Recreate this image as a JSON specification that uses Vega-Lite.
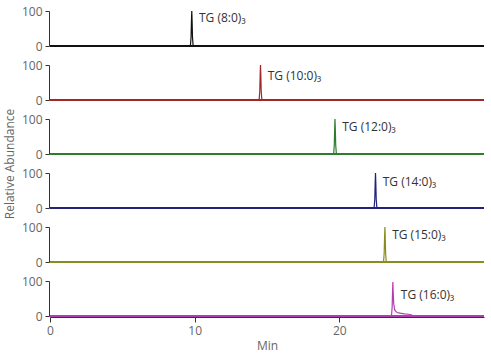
{
  "$schema": "https://vega.github.io/schema/vega-lite/v6.json",
  "padding": {"left": 3, "top": 5, "right": 5, "bottom": 5},
  "background": "white",
  "data": {"values": [
    {"panel": 1, "t": 0, "ab": 0}, {"panel": 1, "t": 9.65, "ab": 0}, {"panel": 1, "t": 9.71, "ab": 3}, {"panel": 1, "t": 9.75, "ab": 25}, {"panel": 1, "t": 9.78, "ab": 75}, {"panel": 1, "t": 9.8, "ab": 100}, {"panel": 1, "t": 9.82, "ab": 75}, {"panel": 1, "t": 9.85, "ab": 25}, {"panel": 1, "t": 9.89, "ab": 3}, {"panel": 1, "t": 9.95, "ab": 0}, {"panel": 1, "t": 30, "ab": 0},
    {"panel": 2, "t": 0, "ab": 0}, {"panel": 2, "t": 14.4, "ab": 0}, {"panel": 2, "t": 14.46, "ab": 3}, {"panel": 2, "t": 14.5, "ab": 25}, {"panel": 2, "t": 14.53, "ab": 75}, {"panel": 2, "t": 14.55, "ab": 100}, {"panel": 2, "t": 14.57, "ab": 75}, {"panel": 2, "t": 14.6, "ab": 25}, {"panel": 2, "t": 14.64, "ab": 3}, {"panel": 2, "t": 14.7, "ab": 0}, {"panel": 2, "t": 30, "ab": 0},
    {"panel": 3, "t": 0, "ab": 0}, {"panel": 3, "t": 19.55, "ab": 0}, {"panel": 3, "t": 19.61, "ab": 3}, {"panel": 3, "t": 19.65, "ab": 25}, {"panel": 3, "t": 19.68, "ab": 75}, {"panel": 3, "t": 19.7, "ab": 100}, {"panel": 3, "t": 19.72, "ab": 75}, {"panel": 3, "t": 19.75, "ab": 25}, {"panel": 3, "t": 19.79, "ab": 3}, {"panel": 3, "t": 19.85, "ab": 0}, {"panel": 3, "t": 30, "ab": 0},
    {"panel": 4, "t": 0, "ab": 0}, {"panel": 4, "t": 22.35, "ab": 0}, {"panel": 4, "t": 22.41, "ab": 3}, {"panel": 4, "t": 22.45, "ab": 25}, {"panel": 4, "t": 22.48, "ab": 75}, {"panel": 4, "t": 22.5, "ab": 100}, {"panel": 4, "t": 22.52, "ab": 75}, {"panel": 4, "t": 22.55, "ab": 25}, {"panel": 4, "t": 22.59, "ab": 3}, {"panel": 4, "t": 22.65, "ab": 0}, {"panel": 4, "t": 30, "ab": 0},
    {"panel": 5, "t": 0, "ab": 0}, {"panel": 5, "t": 23.0, "ab": 0}, {"panel": 5, "t": 23.06, "ab": 3}, {"panel": 5, "t": 23.1, "ab": 25}, {"panel": 5, "t": 23.13, "ab": 75}, {"panel": 5, "t": 23.15, "ab": 100}, {"panel": 5, "t": 23.17, "ab": 75}, {"panel": 5, "t": 23.2, "ab": 25}, {"panel": 5, "t": 23.24, "ab": 3}, {"panel": 5, "t": 23.3, "ab": 0}, {"panel": 5, "t": 30, "ab": 0},
    {"panel": 6, "t": 0, "ab": 0}, {"panel": 6, "t": 23.55, "ab": 0}, {"panel": 6, "t": 23.61, "ab": 3}, {"panel": 6, "t": 23.65, "ab": 25}, {"panel": 6, "t": 23.68, "ab": 70}, {"panel": 6, "t": 23.7, "ab": 97}, {"panel": 6, "t": 23.72, "ab": 70}, {"panel": 6, "t": 23.76, "ab": 35}, {"panel": 6, "t": 23.82, "ab": 18}, {"panel": 6, "t": 23.9, "ab": 13}, {"panel": 6, "t": 24.0, "ab": 10}, {"panel": 6, "t": 24.2, "ab": 8}, {"panel": 6, "t": 24.5, "ab": 6}, {"panel": 6, "t": 24.8, "ab": 5}, {"panel": 6, "t": 25.0, "ab": 3}, {"panel": 6, "t": 25.1, "ab": 0}, {"panel": 6, "t": 30, "ab": 0},
    {"panel": 1, "lx": 10.3, "ly": 80, "label": "TG (8:0)₃"},
    {"panel": 2, "lx": 15.05, "ly": 70, "label": "TG (10:0)₃"},
    {"panel": 3, "lx": 20.2, "ly": 77, "label": "TG (12:0)₃"},
    {"panel": 4, "lx": 23.0, "ly": 73, "label": "TG (14:0)₃"},
    {"panel": 5, "lx": 23.65, "ly": 76, "label": "TG (15:0)₃"},
    {"panel": 6, "lx": 24.25, "ly": 60, "label": "TG (16:0)₃"}
  ]},
  "facet": {
    "row": {
      "field": "panel", "type": "ordinal",
      "header": {"title": "Relative Abundance", "labels": false, "titleFont": "Open Sans", "titleFontSize": 12, "titleFontWeight": "normal", "titleColor": "#666", "titlePadding": -6}
    }
  },
  "spacing": {"row": 18},
  "spec": {
    "width": 434,
    "height": 35,
    "layer": [
      {
        "transform": [{"filter": "datum.t != null"}],
        "mark": {"type": "line", "strokeWidth": 1.2, "clip": true},
        "encoding": {
          "x": {"field": "t", "type": "quantitative", "title": "Min",
            "scale": {"domain": [0, 30], "nice": false, "zero": false},
            "axis": {
              "values": [0, 10, 20],
              "labelOverlap": false, "labelFlush": false,
              "tickSize": 5,
              "grid": false, "domainColor": "#333", "tickColor": "#333",
              "labelColor": "#666", "labelFont": "Open Sans", "labelFontSize": 12, "labelPadding": 3,
              "titleColor": "#666", "titleFont": "Open Sans", "titleFontSize": 12, "titleFontWeight": "normal", "titlePadding": 4
            }
          },
          "y": {"field": "ab", "type": "quantitative", "title": null,
            "scale": {"domain": [0, 100], "nice": false},
            "axis": {
              "values": [0,10,20,30,40,50,60,70,80,90,100],
              "labelExpr": "(datum.value === 0 || datum.value === 100) ? format(datum.value, 'd') : ''",
              "labelOverlap": false, "labelFlush": false,
              "tickSize": 4,
              "grid": false, "domainColor": "#333", "tickColor": "#333",
              "labelColor": "#666", "labelFont": "Open Sans", "labelFontSize": 12, "labelPadding": 3
            }
          },
          "color": {"field": "panel", "type": "nominal", "legend": null,
            "scale": {"domain": [1, 2, 3, 4, 5, 6], "range": ["#111111", "#a02828", "#2d7d2d", "#22227a", "#8c8c1e", "#b23cb2"]}}
        }
      },
      {
        "transform": [{"filter": "datum.label != null"}],
        "mark": {"type": "rule", "strokeWidth": 2},
        "encoding": {
          "y": {"datum": 0, "type": "quantitative"},
          "color": {"field": "panel", "type": "nominal", "legend": null}
        }
      },
      {
        "transform": [{"filter": "datum.label != null"}],
        "mark": {"type": "text", "align": "left", "baseline": "middle", "font": "Open Sans", "fontSize": 12, "color": "#333"},
        "encoding": {
          "x": {"field": "lx", "type": "quantitative", "title": "Min"},
          "y": {"field": "ly", "type": "quantitative", "title": null},
          "text": {"field": "label"}
        }
      }
    ]
  },
  "resolve": {"scale": {"x": "shared", "y": "shared"}},
  "config": {"view": {"stroke": null}, "axis": {"labelOverlap": false}}
}
